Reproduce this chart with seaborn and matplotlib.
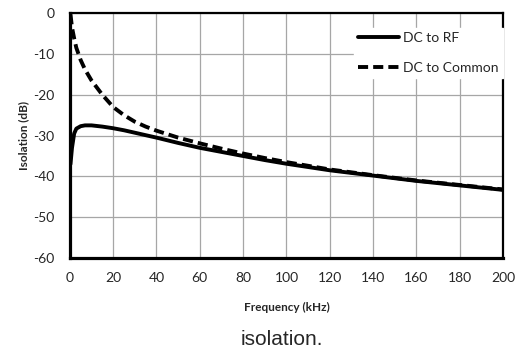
import numpy as np
import pandas as pd
import seaborn as sns
import matplotlib.pyplot as plt

sns.set_style("white")
plt.rcParams['font.family'] = ['Lato', 'DejaVu Sans']
plt.rcParams['axes.unicode_minus'] = False

# 读图估计的数据
freq = [0.3, 1, 2, 3, 5, 7, 10, 15, 20, 25, 30, 35, 40, 50, 60, 70, 80, 90, 100,
        120, 140, 160, 180, 200]
dc_rf = [-37.0, -33.0, -29.5, -28.3, -27.7, -27.5, -27.5, -27.8, -28.2, -28.7, -29.3,
         -29.9, -30.5, -31.8, -33.0, -34.0, -35.0, -36.0, -36.9,
         -38.5, -39.8, -41.1, -42.2, -43.3]
dc_common = [-0.3, -3.5, -6.2, -8.5, -11.5, -13.8, -16.5, -20.0, -23.0, -25.0, -26.6,
             -27.8, -28.8, -30.5, -31.9, -33.2, -34.4, -35.5, -36.5,
             -38.3, -39.7, -41.0, -42.1, -43.2]
series_names = ['DC to RF', 'DC to Common']

df = pd.DataFrame({
    'freq': freq * 2,
    'iso': dc_rf + dc_common,
    'series': [series_names[0]] * len(freq) + [series_names[1]] * len(freq),
})

fig = plt.figure(figsize=(5.29, 3.54), dpi=100)
ax = fig.add_axes([0.132, 0.271, 0.819, 0.692])

sns.lineplot(data=df, x='freq', y='iso', style='series', color='black',
             dashes={'DC to RF': '', 'DC to Common': (2.6, 1.3)},
             linewidth=2.8, ax=ax, legend=True)

ax.set_xlim(0, 200)
ax.set_ylim(-60, 0)
ax.set_xticks(np.arange(0, 201, 20))
ax.set_yticks(np.arange(-60, 1, 10))
ax.grid(True, color='#a6a6a6', linewidth=0.9)
ax.tick_params(axis='x', length=0, labelsize=10, pad=10)
ax.tick_params(axis='y', length=0, labelsize=10, pad=11)
for s in ['left', 'bottom']:
    ax.spines[s].set_linewidth(2.3)
for s in ['top', 'right']:
    ax.spines[s].set_linewidth(1.6)
for s in ax.spines.values():
    s.set_color('black')

ax.set_xlabel('Frequency (kHz)', fontsize=8.5, fontweight='bold', labelpad=13)
ax.set_ylabel('Isolation (dB)', fontsize=8.5, fontweight='bold', labelpad=3)

leg = ax.legend(loc='upper right', bbox_to_anchor=(1.0, 1 - 15 / 245), frameon=True,
                fontsize=10, handlelength=2.9, handletextpad=0.35,
                borderaxespad=0, borderpad=0.3, labelspacing=1.25, fancybox=False)
leg.get_frame().set_edgecolor('white')
leg.get_frame().set_alpha(1)

fig.text(0.533, 0.04, 'isolation.', ha='center', va='center', fontsize=15,
         family=['Liberation Sans', 'DejaVu Sans'])

fig.savefig('out.png', dpi=100)
